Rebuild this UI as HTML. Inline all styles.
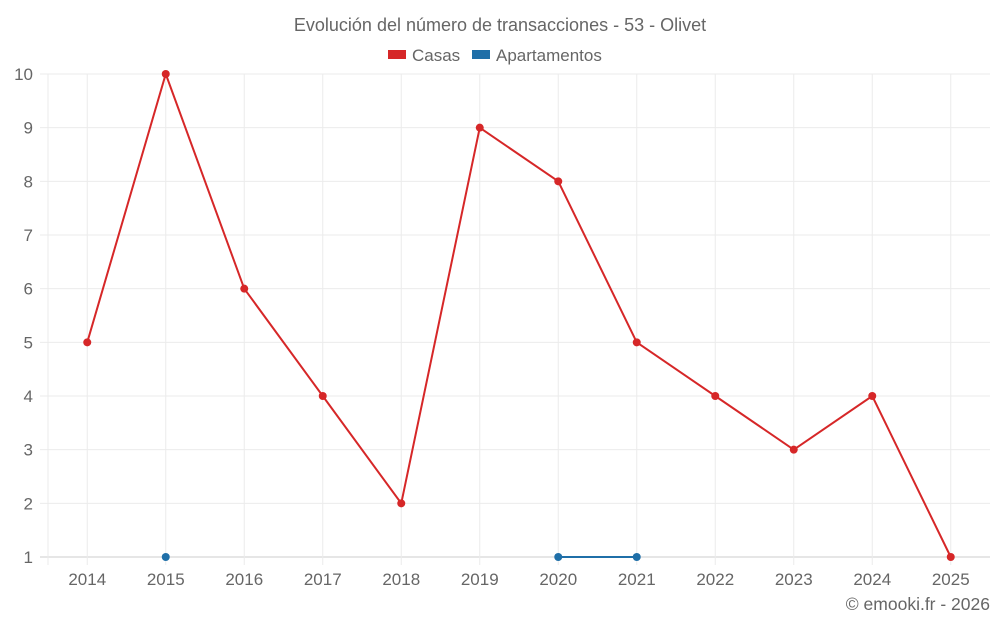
<!DOCTYPE html>
<html><head><meta charset="utf-8"><style>
body{margin:0;background:#fff;}
svg{display:block;font-family:"Liberation Sans",sans-serif;}
</style></head><body>
<svg id="chart" width="1000" height="625">
<text x="500" y="31" text-anchor="middle" font-size="18" fill="#666">Evolución del número de transacciones - 53 - Olivet</text>
<g>
<g><rect x="388" y="50" width="18" height="9" fill="#d62728"/><text x="412" y="61" font-size="17" fill="#666">Casas</text></g>
<g><rect x="472" y="50" width="18" height="9" fill="#1f6fa8"/><text x="496" y="61" font-size="17" fill="#666">Apartamentos</text></g>
</g>
<text x="990" y="610" text-anchor="end" font-size="17.5" fill="#666">© emooki.fr - 2026</text>
</svg>
<script>
const years=[2014,2015,2016,2017,2018,2019,2020,2021,2022,2023,2024,2025];
const casas=[5,10,6,4,2,9,8,5,4,3,4,1];
const apartamentos=[null,1,null,null,null,null,1,1,null,null,null,null];
const yTicks=[1,2,3,4,5,6,7,8,9,10];
const svg=document.getElementById('chart');
const NS='http://www.w3.org/2000/svg';
const L=48,R=990,T=74,B=557,yMin=1,yMax=10;
const bw=(R-L)/years.length;
const xs=i=>L+bw*(i+0.5);
const ys=v=>B-(v-yMin)/(yMax-yMin)*(B-T);
function mk(tag,attrs){const e=document.createElementNS(NS,tag);for(const k in attrs)e.setAttribute(k,attrs[k]);svg.appendChild(e);return e;}
yTicks.forEach(v=>{
 const g=mk('line',{x1:40,x2:R,y1:ys(v),y2:ys(v),stroke:v===yMin?'#ccc':'#ebebeb','stroke-width':1});
 
 
 const t=mk('text',{x:33,y:ys(v)+6,'text-anchor':'end','font-size':17,fill:'#666'});
 t.textContent=v;
 
 
});
const lb=mk('line',{x1:L,x2:L,y1:T,y2:B+8,stroke:'#ebebeb'});


years.forEach((y,i)=>{
 const g=mk('line',{x1:xs(i),x2:xs(i),y1:T,y2:B+8,stroke:'#ebebeb'});
 
 
 const t=mk('text',{x:xs(i),y:585,'text-anchor':'middle','font-size':17,fill:'#666'});
 t.textContent=y;
 
 
});
function series(data,color,name){
 let d='',pen=false;
 data.forEach((v,i)=>{if(v==null){pen=false;return;}d+=(pen?'L':'M')+xs(i)+' '+ys(v)+' ';pen=true;});
 const p=mk('path',{d:d,fill:'none',stroke:color,'stroke-width':2});
 
 
 data.forEach((v,i)=>{if(v==null)return;
  const c=mk('circle',{cx:xs(i),cy:ys(v),r:4,fill:color});
  
  
 });
}
series(casas,'#d62728','casas');
series(apartamentos,'#1f6fa8','apartamentos');
</script>
</body></html>
